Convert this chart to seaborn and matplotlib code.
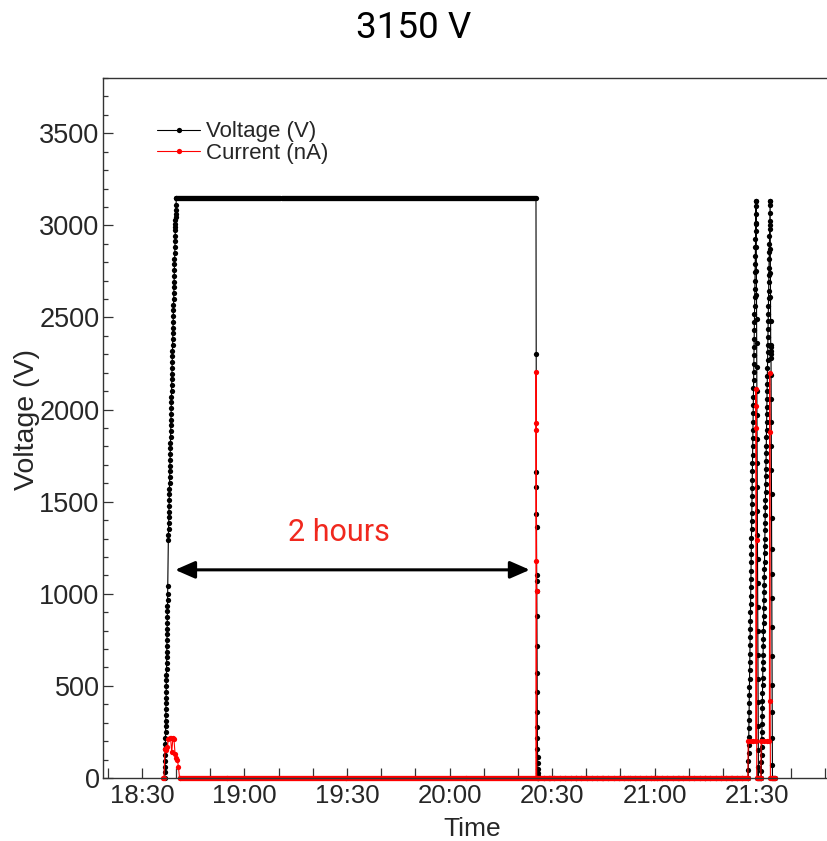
import numpy as np
import pandas as pd
import matplotlib
matplotlib.use("Agg")
import matplotlib.pyplot as plt
from matplotlib.lines import Line2D
from matplotlib.ticker import FixedLocator, FixedFormatter, MultipleLocator
import seaborn as sns

# ---------------- data (time in minutes after 18:00) ----------------
volt_ramp_low = [0, 30, 60, 90, 125, 155, 185, 215, 250, 280, 310, 340, 375, 405, 435, 465,
                 500, 530, 560, 590, 625, 655, 685, 715, 750, 780, 810, 840, 875, 905, 935,
                 965, 1000, 1045]
volt_ramp_high = [1290, 1320, 1350, 1385, 1415, 1445, 1475, 1510, 1540, 1570, 1600, 1635, 1665,
                  1695, 1725, 1760, 1790, 1820, 1850, 1885, 1915, 1945, 1975, 2010, 2040, 2070,
                  2100, 2135, 2165, 2195, 2225, 2260, 2290, 2320, 2350, 2385, 2415, 2445, 2475,
                  2510, 2540, 2570, 2600, 2635, 2665, 2695, 2725, 2760, 2790, 2820, 2850, 2885,
                  2915, 2945, 2975, 2990, 3005, 3030, 3045, 3060, 3085, 3110, 3150]
volt_plateau = [3150] * 360
volt_drop = [2300, 1660, 1580, 1435, 1360, 1100, 1070, 1015, 880, 715, 570, 465, 360, 275,
             215, 160, 115, 80, 50, 25, 10, 0]
volt_off = [0] * 40
volt_spike1_up = [0, 45, 90, 135, 180, 225, 270, 315, 360, 405, 450, 495, 540, 585, 630, 675,
                  720, 765, 810, 855, 900, 945, 990, 1035, 1080, 1125, 1170, 1215, 1260, 1305,
                  1350, 1395, 1440, 1485, 1530, 1575, 1620, 1665, 1710, 1755, 1800, 1845, 1890,
                  1935, 1980, 2025, 2070, 2115, 2160, 2205, 2250, 2295, 2340, 2385, 2430, 2475,
                  2520, 2565, 2610, 2655, 2700, 2745, 2790, 2835, 2880, 2925, 2970, 3015, 3060,
                  3105, 3130]
volt_spike1_down = [3130, 3010, 2880, 2750, 2620, 2490, 2360, 2230, 2100, 1970, 1840, 1710,
                    1580, 1450, 1320, 1190, 1060, 930, 800, 670, 540, 410, 280, 150, 60, 0]
volt_between = [0, 0, 0]
volt_spike2_up = [0, 40, 85, 125, 170, 210, 250, 295, 335, 380, 420, 460, 505, 545, 590, 630,
                  670, 715, 755, 800, 840, 880, 925, 965, 1010, 1050, 1090, 1135, 1175, 1220,
                  1260, 1300, 1345, 1385, 1430, 1470, 1510, 1555, 1595, 1640, 1680, 1720, 1765,
                  1805, 1850, 1890, 1930, 1975, 2015, 2060, 2100, 2140, 2185, 2225, 2270, 2310,
                  2350, 2395, 2435, 2480, 2520, 2560, 2605, 2645, 2690, 2730, 2770, 2815, 2855,
                  2900, 2940, 2980, 3025, 3065, 3110, 3130]
volt_spike2_down = [3130, 3000, 2870, 2740, 2610, 2480, 2350, 2300, 2340, 2280, 2320, 2190,
                    2060, 1930, 1800, 1670, 1540, 1410, 1245, 1110, 975, 820, 665, 505, 360,
                    215, 70, 0]
volt_tail = [0, 0, 0]

volt_segments = [
    ((36.70, 37.55), volt_ramp_low),
    ((37.70, 40.00), volt_ramp_high),
    ((40.05, 145.30), volt_plateau),
    ((145.35, 145.90), volt_drop),
    ((146.00, 207.30), volt_off),
    ((207.40, 209.70), volt_spike1_up),
    ((209.72, 210.40), volt_spike1_down),
    ((210.60, 211.10), volt_between),
    ((211.20, 213.80), volt_spike2_up),
    ((213.82, 214.50), volt_spike2_down),
    ((214.70, 215.10), volt_tail),
]

curr_start = [0, 0, 160, 150, 170, 210, 215, 215, 140, 215, 210, 130, 110, 100, 60, 0]
curr_on = [0] * 360
curr_drop = [2205, 1925, 1890, 1180, 1015, 0]
curr_off = [0] * 220
curr_spike1_step = [200, 200, 200, 200]
curr_spike1 = [2110, 2020, 1900, 1290, 0]
curr_between = [0, 0, 0, 0, 0]
curr_spike2_step = [200, 200, 200, 200]
curr_spike2 = [2200, 1880, 420, 0]
curr_tail = [0, 0, 0, 0, 0]

curr_segments = [
    ((36.10, 41.00), curr_start),
    ((41.10, 145.28), curr_on),
    ((145.33, 145.50), curr_drop),
    ((145.60, 207.30), curr_off),
    ((207.40, 209.60), curr_spike1_step),
    ((209.68, 209.90), curr_spike1),
    ((210.00, 211.10), curr_between),
    ((211.20, 213.60), curr_spike2_step),
    ((213.70, 213.90), curr_spike2),
    ((214.00, 215.10), curr_tail),
]

series_names = ["Voltage (V)", "Current (nA)"]
series_colors = ["#000000", "#ff0000"]

x_tick_minutes = [30, 60, 90, 120, 150, 180, 210]
x_tick_labels = ["18:30", "19:00", "19:30", "20:00", "20:30", "21:00", "21:30"]

arrow_span = (39.7, 143.5)
arrow_level = 1130
note_pos = (87.7, 1335)
note_text = "2 hours"
title_text = "3150 V"


def build(segments, name):
    frames = []
    for (t0, t1), vals in segments:
        frames.append(pd.DataFrame({"t": np.linspace(t0, t1, len(vals)), "value": vals}))
    df = pd.concat(frames, ignore_index=True)
    df["series"] = name
    return df


data = pd.concat([build(volt_segments, series_names[0]),
                  build(curr_segments, series_names[1])], ignore_index=True)

# ---------------- plotting ----------------
sns.set_theme(style="ticks")
plt.rcParams["font.family"] = ["Liberation Sans", "DejaVu Sans"]

fig = plt.figure(figsize=(8.27, 8.41), dpi=100)
W, H = 827, 841
ax = fig.add_axes([103 / W, (H - 778) / H, (835 - 103) / W, 700 / H])

sns.lineplot(data=data, x="t", y="value", hue="series", hue_order=series_names,
             palette=dict(zip(series_names, series_colors)), sort=False, estimator=None,
             units="series", marker="o", markersize=3.8, markeredgewidth=0, linewidth=0.8,
             legend=False, ax=ax)
for ln in ax.lines:
    ln.set_clip_on(False)

ax.set_xlim(18.6, 232.8)
ax.set_ylim(0, 3800)

ax.xaxis.set_major_locator(FixedLocator(x_tick_minutes))
ax.xaxis.set_major_formatter(FixedFormatter(x_tick_labels))
ax.xaxis.set_minor_locator(MultipleLocator(10))
ax.yaxis.set_major_locator(MultipleLocator(500))
ax.yaxis.set_minor_locator(MultipleLocator(100))

tick_col = "#333333"
ax.tick_params(axis="both", which="both", direction="in", top=False, right=False,
               color=tick_col, width=0.9)
ax.tick_params(axis="x", which="major", length=7.5, pad=4.5, labelsize=18.5)
ax.tick_params(axis="x", which="minor", length=7.0)
ax.tick_params(axis="y", which="major", length=7.0, pad=2.5, labelsize=19.5)
ax.tick_params(axis="y", which="minor", length=3.8)
for s in ax.spines.values():
    s.set_color(tick_col)
    s.set_linewidth(1.0)

ax.set_xlabel("Time", fontsize=19)
ax.set_ylabel("Voltage (V)", fontsize=20.5)
ax.xaxis.set_label_coords(0.505, -0.056)
ax.yaxis.set_label_coords(-0.086, 0.512)

handles = [Line2D([], [], color=c, lw=0.8, marker="o", markersize=3.8, markeredgewidth=0)
           for c in series_colors]
ax.legend(handles, series_names, loc="center left",
          bbox_to_anchor=((157 - 103) / 732, (778 - 142.5) / 700), frameon=False,
          fontsize=16, handlelength=1.95, handletextpad=0.25, labelspacing=0.0,
          borderpad=0, borderaxespad=0, numpoints=1)

ax.annotate("", xy=(arrow_span[1], arrow_level), xytext=(arrow_span[0], arrow_level),
            arrowprops=dict(arrowstyle="<|-|>,head_length=0.8,head_width=0.35",
                            color="black", lw=2.2, mutation_scale=15, shrinkA=0, shrinkB=0))
ax.text(note_pos[0], note_pos[1], note_text, color="#f0281e", fontsize=22,
        family=["Roboto", "DejaVu Sans"], ha="center", va="center")

fig.text(0.5, 1 - 28 / H, title_text, fontsize=26.5, family=["Roboto", "DejaVu Sans"],
         ha="center", va="center", color="black")

fig.savefig("out.png", dpi=100)
